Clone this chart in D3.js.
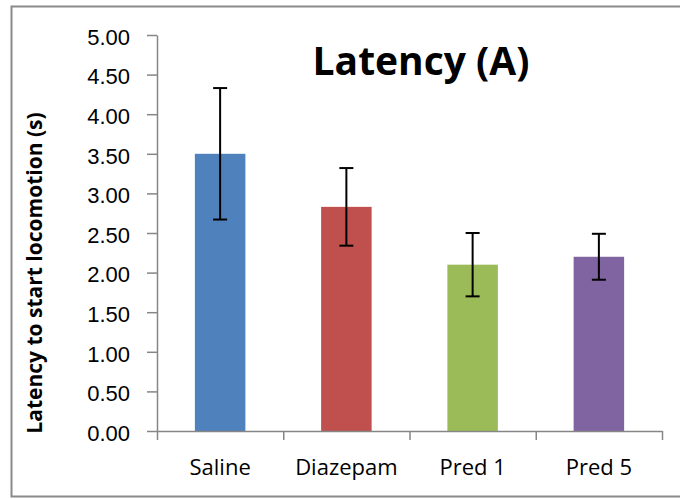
<!DOCTYPE html>
<html lang="en">
  <head>
    <meta charset="utf-8">
    <script src="https://cdn.jsdelivr.net/npm/d3@7"></script>
    <style>
      html, body { margin: 0; padding: 0; background: #fff; }
      svg { display: block; font-family: "Open Sans", sans-serif; }
      .axis path, .axis line { stroke: #868686; stroke-width: 1.5; }
      .axis text { fill: #000; }
    </style>
  </head>
  <body>
    <svg id="chart" width="680" height="499"></svg>
    <script>

      var categories = ["Saline", "Diazepam", "Pred 1", "Pred 5"],
          means = [3.50, 2.83, 2.10, 2.20],
          errors = [0.83, 0.49, 0.40, 0.29],
          colors = ["#4f81bd", "#c0504d", "#9bbb59", "#8064a2"],
          yTicks = [0, 0.5, 1, 1.5, 2, 2.5, 3, 3.5, 4, 4.5, 5];

      var svg = d3.select("#chart"),
          plot = {left: 157, right: 662, top: 35, bottom: 431};

      // outer frame of the chart area
      svg.append("rect")
        .attr("x", 11.5)
        .attr("y", 6.5)
        .attr("width", 700)
        .attr("height", 490)
        .attr("fill", "#fff")
        .attr("stroke", "#8a8a8a")
        .attr("stroke-width", 2);

      var x = d3.scaleBand()
            .domain(categories)
            .range([plot.left, plot.right])
            .paddingInner(0.6)
            .paddingOuter(0.3),
          xEdge = d3.scaleLinear()
            .domain([0, categories.length])
            .range([plot.left, plot.right]),
          y = d3.scaleLinear()
            .domain([0, 5])
            .range([plot.bottom, plot.top]);

      var data = categories.map(function(c, i) {
        return {name: c, mean: means[i], err: errors[i], color: colors[i]};
      });

      // bars
      svg.selectAll("rect.bar")
        .data(data)
        .enter().append("rect")
          .attr("class", "bar")
          .attr("x", function(d) { return x(d.name); })
          .attr("width", x.bandwidth())
          .attr("y", function(d) { return y(d.mean); })
          .attr("height", function(d) { return y(0) - y(d.mean); })
          .attr("fill", function(d) { return d.color; });

      // y axis
      var yAxis = svg.append("g")
        .attr("class", "axis")
        .attr("transform", "translate(" + plot.left + ",0)")
        .call(d3.axisLeft(y)
          .tickValues(yTicks)
          .tickFormat(d3.format(".2f"))
          .tickSize(10)
          .tickSizeOuter(0)
          .tickPadding(17));
      yAxis.selectAll("text")
        .attr("font-size", 22)
        .attr("dy", "0.42em");

      // x axis: ticks at category edges
      var xAxis = svg.append("g")
        .attr("class", "axis")
        .attr("transform", "translate(0," + plot.bottom + ")")
        .call(d3.axisBottom(xEdge)
          .tickValues(d3.range(categories.length + 1))
          .tickFormat("")
          .tickSize(9)
          .tickSizeOuter(0));

      svg.append("g").selectAll("text")
        .data(categories)
        .enter().append("text")
          .attr("x", function(d) { return x(d) + x.bandwidth() / 2; })
          .attr("y", 475)
          .attr("text-anchor", "middle")
          .attr("font-size", 22)
          .text(function(d) { return d; });

      // error bars
      var eb = svg.append("g")
        .attr("stroke", "#000")
        .attr("stroke-width", 2)
        .selectAll("g")
        .data(data)
        .enter().append("g")
          .attr("transform", function(d) {
            return "translate(" + (x(d.name) + x.bandwidth() / 2) + ",0)";
          });
      eb.append("line")
        .attr("y1", function(d) { return y(d.mean - d.err); })
        .attr("y2", function(d) { return y(d.mean + d.err); });
      eb.append("line")
        .attr("x1", -7).attr("x2", 7)
        .attr("y1", function(d) { return y(d.mean + d.err); })
        .attr("y2", function(d) { return y(d.mean + d.err); });
      eb.append("line")
        .attr("x1", -7).attr("x2", 7)
        .attr("y1", function(d) { return y(d.mean - d.err); })
        .attr("y2", function(d) { return y(d.mean - d.err); });

      // title
      svg.append("text")
        .attr("x", 421)
        .attr("y", 75)
        .attr("text-anchor", "middle")
        .attr("font-size", 39)
        .attr("font-weight", "bold")
        .text("Latency (A)");

      // y axis label
      svg.append("text")
        .attr("transform", "translate(42,273) rotate(-90)")
        .attr("text-anchor", "middle")
        .attr("font-size", 21)
        .attr("font-weight", "bold")
        .text("Latency to start locomotion (s)");

    </script>
  </body>
</html>
